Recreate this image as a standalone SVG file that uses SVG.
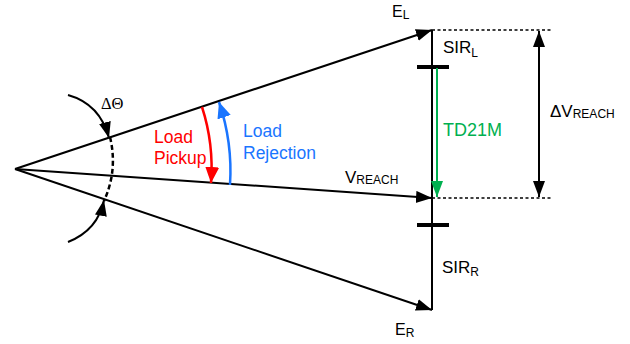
<svg xmlns="http://www.w3.org/2000/svg" width="630" height="344" viewBox="0 0 630 344">
<style>
.ln{stroke:#000;stroke-width:2;fill:none}
.t{font-family:"Liberation Sans",Arial,sans-serif;fill:#000}
.sub{font-size:12px}
</style>
<defs>
<marker id="ah" markerUnits="userSpaceOnUse" markerWidth="18" markerHeight="14" refX="16" refY="6" orient="auto-start-reverse"><path d="M0,0 L16,6 L0,12 z" fill="#000"/></marker>
<marker id="ahg" markerUnits="userSpaceOnUse" markerWidth="18" markerHeight="14" refX="16" refY="6" orient="auto"><path d="M0,0 L16,6 L0,12 z" fill="#00b050"/></marker>
<marker id="ahr" markerUnits="userSpaceOnUse" markerWidth="18" markerHeight="16" refX="16" refY="7" orient="auto"><path d="M0,0 L16,7 L0,14 z" fill="#ff0000"/></marker>
<marker id="ahb" markerUnits="userSpaceOnUse" markerWidth="18" markerHeight="16" refX="16" refY="7" orient="auto"><path d="M0,0 L16,7 L0,14 z" fill="#1a75ff"/></marker>
</defs>
<g id="connectors">
<line class="ln" x1="15" y1="169" x2="432" y2="30" marker-end="url(#ah)"/>
<line class="ln" x1="15" y1="169" x2="432" y2="198" marker-end="url(#ah)"/>
<line class="ln" x1="15" y1="169" x2="432" y2="310" marker-end="url(#ah)"/>
<line class="ln" x1="432" y1="30" x2="432" y2="310"/>
<line x1="432" y1="30" x2="552" y2="30" stroke="#000" stroke-width="1.5" stroke-dasharray="3,2.5"/>
<line x1="432" y1="198" x2="552" y2="198" stroke="#000" stroke-width="1.5" stroke-dasharray="3,2.5"/>
<line class="ln" x1="539" y1="31" x2="539" y2="197" marker-start="url(#ah)" marker-end="url(#ah)"/>
<line x1="417" y1="67" x2="449" y2="67" stroke="#000" stroke-width="4"/>
<line x1="417" y1="225" x2="449" y2="225" stroke="#000" stroke-width="4"/>
<line x1="437" y1="68" x2="437" y2="197" stroke="#00b050" stroke-width="2" marker-end="url(#ahg)"/>
<path d="M202,107 A197,197 0 0,1 211,183" stroke="#ff0000" stroke-width="2.5" fill="none" marker-end="url(#ahr)"/>
<path d="M230,185 A215,215 0 0,0 219,102" stroke="#1a75ff" stroke-width="2.5" fill="none" marker-end="url(#ahb)"/>
<path d="M110,137 Q118,170 104,201" stroke="#000" stroke-width="2.5" fill="none" stroke-dasharray="5,3"/>
<path d="M68,95 Q100,104 109,138" class="ln" stroke-width="2.5" marker-end="url(#ah)"/>
<path d="M68,242 Q98,230 104,200" class="ln" stroke-width="2.5" marker-end="url(#ah)"/>
</g>
<g id="label-EL"><text class="t" x="392" y="17" font-size="16">E<tspan class="sub" dy="2">L</tspan></text></g>
<g id="label-SIRL"><text class="t" x="443" y="53" font-size="17">SIR<tspan class="sub" dy="4">L</tspan></text></g>
<g id="label-TD21M"><text class="t" x="443" y="136" font-size="18" style="fill:#00b050">TD21M</text></g>
<g id="label-VREACH"><text class="t" x="345" y="183" font-size="17">V<tspan class="sub" dy="1">REACH</tspan></text></g>
<g id="label-SIRR"><text class="t" x="442" y="273" font-size="17">SIR<tspan class="sub" dy="3">R</tspan></text></g>
<g id="label-ER"><text class="t" x="395" y="335" font-size="16">E<tspan class="sub" dy="2">R</tspan></text></g>
<g id="label-dVREACH"><text class="t" x="550" y="117" font-size="17">ΔV<tspan class="sub" dy="1">REACH</tspan></text></g>
<g id="label-dTheta"><text x="101" y="109" font-size="16.5" font-family="'Liberation Serif',serif">ΔΘ</text></g>
<g id="label-pickup"><text class="t" font-size="17.5" style="fill:#ff0000"><tspan x="154" y="143">Load</tspan><tspan x="154" y="164">Pickup</tspan></text></g>
<g id="label-rejection"><text class="t" font-size="17.5" style="fill:#1a75ff"><tspan x="243" y="137">Load</tspan><tspan x="243" y="159">Rejection</tspan></text></g>
</svg>
